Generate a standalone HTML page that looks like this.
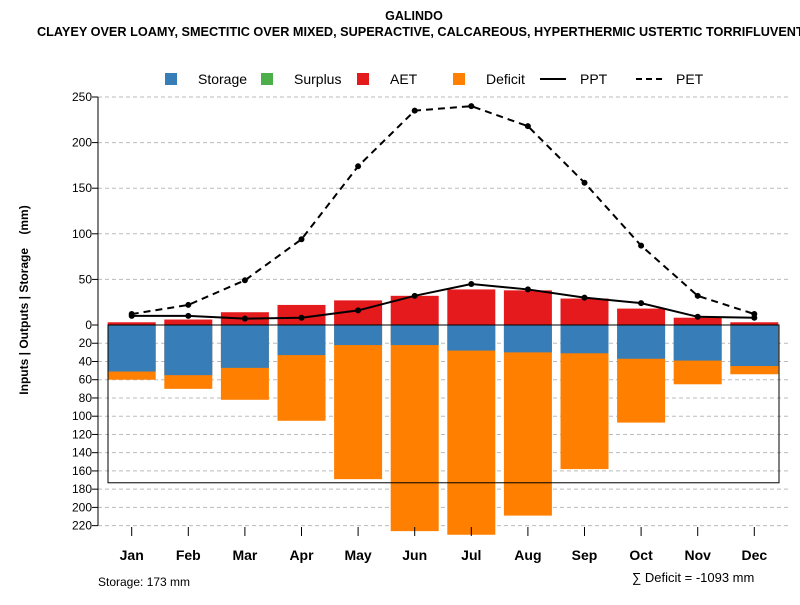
<!DOCTYPE html>
<html><head><meta charset="utf-8"><style>
body{margin:0;background:#fff;font-family:"Liberation Sans",sans-serif}
svg text{font-family:"Liberation Sans",sans-serif;white-space:pre}
</style></head><body>
<svg id="c" width="800" height="600" xmlns="http://www.w3.org/2000/svg">
<text x="414" y="20" text-anchor="middle" font-size="12.5" font-weight="bold">GALINDO</text>
<text x="37" y="36" font-size="12.7" font-weight="bold">CLAYEY OVER LOAMY, SMECTITIC OVER MIXED, SUPERACTIVE, CALCAREOUS, HYPERTHERMIC USTERTIC TORRIFLUVENTS</text>
<g id="grid"></g><g id="bars"></g><g id="lines"></g><g id="axes"></g>
<g font-size="14">
<rect x="165" y="73" width="12" height="12" fill="#377eb8"/><text x="198" y="84">Storage</text>
<rect x="261" y="73" width="12" height="12" fill="#4daf4a"/><text x="294" y="84">Surplus</text>
<rect x="357" y="73" width="12" height="12" fill="#e41a1c"/><text x="390" y="84">AET</text>
<rect x="453" y="73" width="12" height="12" fill="#ff7f00"/><text x="486" y="84">Deficit</text>
<line x1="540" y1="79" x2="566" y2="79" stroke="#000" stroke-width="2"/><text x="580" y="84">PPT</text>
<line x1="636" y1="79" x2="662" y2="79" stroke="#000" stroke-width="2" stroke-dasharray="6,4"/><text x="676" y="84">PET</text>
</g>
<text transform="translate(28,300) rotate(-90)" text-anchor="middle" font-size="12" font-weight="bold">Inputs | Outputs | Storage    (mm)</text>
<text x="98" y="586" font-size="12">Storage: 173 mm</text>
<text x="632" y="582" font-size="13">∑ Deficit = -1093 mm</text>
</svg>
<script>
const months=["Jan","Feb","Mar","Apr","May","Jun","Jul","Aug","Sep","Oct","Nov","Dec"];
const aet=[3,6,14,22,27,32,39,38,29,18,8,3];
const storage=[51,55,47,33,22,22,28,30,31,37,39,45];
const deficitBottom=[60,70,82,105,169,226,230,209,158,107,65,54];
const pet=[12,22,49,94,174,235,240,218,156,87,32,12];
const ppt=[10,10,7,8,16,32,45,39,30,24,9,8];
const upTicks=[50,100,150,200,250];
const downTicks=[0,20,40,60,80,100,120,140,160,180,200,220];
const storageCap=173;
const NS="http://www.w3.org/2000/svg";
const y0=325,k=0.912;
const yUp=v=>y0-v*k, yDn=v=>y0+v*k;
const xC=i=>131.7+i*56.6;
function mk(p,t,a){const e=document.createElementNS(NS,t);for(const n in a)e.setAttribute(n,a[n]);document.getElementById(p).appendChild(e);return e;}
upTicks.forEach(v=>{
 const l=mk('grid','line',{x1:98,x2:790,y1:yUp(v),y2:yUp(v),stroke:'#bbb','stroke-dasharray':'4,3'});
 
 
 const t=mk('axes','text',{x:92,y:yUp(v)+4,'text-anchor':'end','font-size':12});t.textContent=v;
 
 
 mk('axes','line',{x1:92,x2:98,y1:yUp(v),y2:yUp(v),stroke:'#000'});
});
downTicks.forEach(v=>{
 if(v>0){const l=mk('grid','line',{x1:98,x2:790,y1:yDn(v),y2:yDn(v),stroke:'#bbb','stroke-dasharray':'4,3'});
 
 }
 const t=mk('axes','text',{x:92,y:yDn(v)+4,'text-anchor':'end','font-size':12});t.textContent=v;
 
 
 mk('axes','line',{x1:92,x2:98,y1:yDn(v),y2:yDn(v),stroke:'#000'});
});
mk('axes','line',{x1:98,x2:98,y1:yUp(250),y2:yDn(220),stroke:'#000'});
months.forEach((m,i)=>{
 const x=xC(i),w=48;
 const d=mk('bars','rect',{x:x-w/2,y:y0,width:w,height:deficitBottom[i]*k,fill:'#ff7f00'});
 
 
 const s=mk('bars','rect',{x:x-w/2,y:y0,width:w,height:storage[i]*k,fill:'#377eb8'});
 
 
 const a=mk('bars','rect',{x:x-w/2,y:yUp(aet[i]),width:w,height:aet[i]*k,fill:'#e41a1c'});
 
 
 mk('axes','line',{x1:x,x2:x,y1:527,y2:536,stroke:'#000'});
 const t=mk('axes','text',{x:x,y:560,'text-anchor':'middle','font-size':14,'font-weight':'bold'});t.textContent=m;
 
 
});
const box=mk('bars','rect',{x:108,y:y0,width:671,height:storageCap*k,fill:'none',stroke:'#000'});


mk('bars','line',{x1:108,x2:779,y1:y0,y2:y0,stroke:'#000'});
function series(arr,name,dash){
 const p=mk('lines','polyline',{points:arr.map((v,i)=>xC(i)+','+yUp(v)).join(' '),fill:'none',stroke:'#000','stroke-width':2,'stroke-dasharray':dash});
 
 
 arr.forEach((v,i)=>{const c=mk('lines','circle',{cx:xC(i),cy:yUp(v),r:3,fill:'#000'});
 
 });
}
series(pet,'pet','7,5');
series(ppt,'ppt','none');
</script>
</body></html>
